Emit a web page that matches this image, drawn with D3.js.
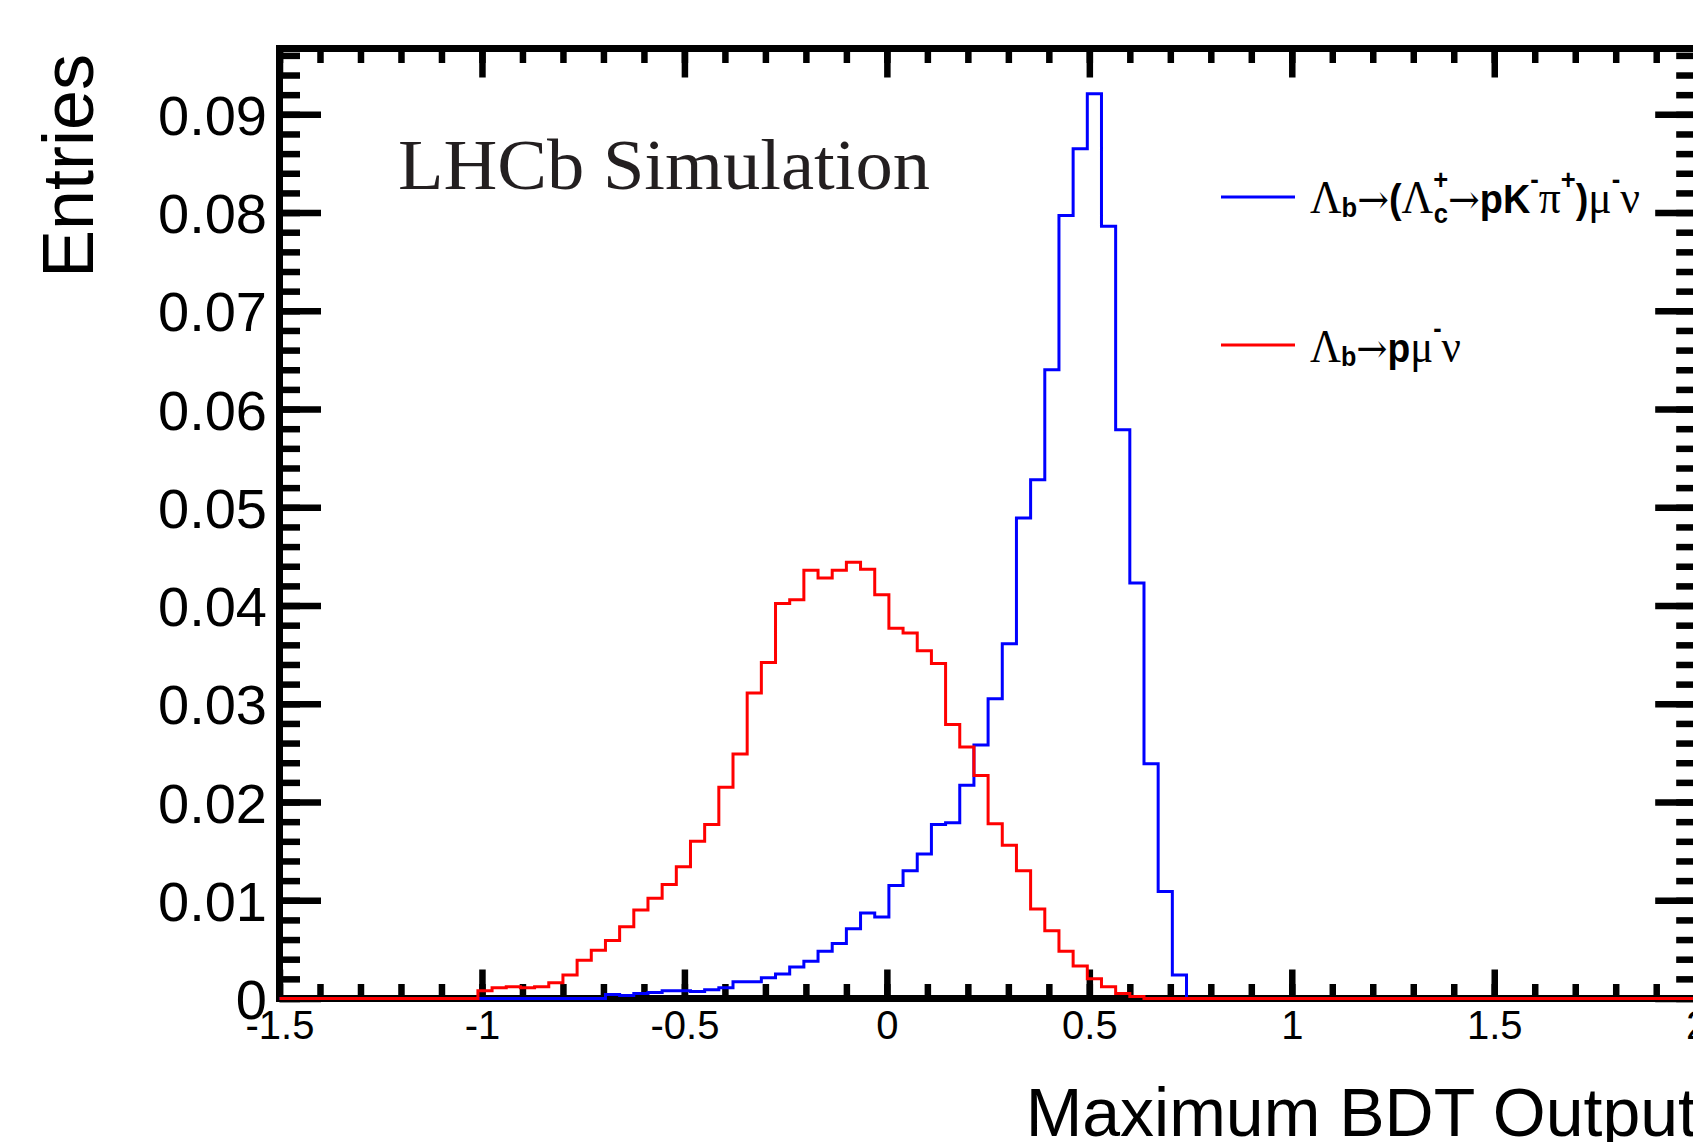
<!DOCTYPE html>
<html>
<head>
<meta charset="utf-8">
<script src="https://cdn.jsdelivr.net/npm/d3@7"></script>
<style>
  body { margin: 0; background: #fff; }
  svg { display: block; }
</style>
</head>
<body>
<svg id="chart" width="1693" height="1142"></svg>
<script>
// histogram binning: 100 bins from -1.5 to 2
const binLow = -1.5;
const binWidth = 0.035;

// Lambda_b -> (Lambda_c -> p K pi) mu nu  (blue)
const lambdaCValues = [
  0, 0, 0, 0, 0, 0, 0, 0, 0, 0,
  0, 0, 0, 0, 0, 0, 0, 0, 0, 0,
  0, 0, 0, 0.0004, 0.0003, 0.0005, 0.0006, 0.0008, 0.0008, 0.0007,
  0.0009, 0.0011, 0.0017, 0.0017, 0.0021, 0.0025, 0.0032, 0.0038, 0.0048, 0.0056,
  0.0071, 0.0087, 0.0083, 0.0115, 0.0130, 0.0147, 0.0177, 0.0179, 0.0217, 0.0258,
  0.0305, 0.0361, 0.0489, 0.0528, 0.0640, 0.0797, 0.0865, 0.0921, 0.0786, 0.0579,
  0.0423, 0.0239, 0.0109, 0.0024, 0, 0, 0, 0, 0, 0,
  0, 0, 0, 0, 0, 0, 0, 0, 0, 0,
  0, 0, 0, 0, 0, 0, 0, 0, 0, 0,
  0, 0, 0, 0, 0, 0, 0, 0, 0, 0
];

// Lambda_b -> p mu nu  (red)
const pMuNuValues = [
  0, 0, 0, 0, 0, 0, 0, 0, 0, 0,
  0, 0, 0, 0, 0.0008, 0.0011, 0.0012, 0.0011, 0.0012, 0.0016,
  0.0024, 0.0039, 0.0049, 0.0059, 0.0073, 0.0090, 0.0102, 0.0116, 0.0134, 0.0160,
  0.0177, 0.0215, 0.0249, 0.0311, 0.0342, 0.0402, 0.0406, 0.0436, 0.0428, 0.0436,
  0.0444, 0.0437, 0.0411, 0.0377, 0.0372, 0.0354, 0.0341, 0.0279, 0.0256, 0.0227,
  0.0178, 0.0156, 0.0130, 0.0091, 0.0069, 0.0048, 0.0033, 0.0020, 0.0012, 0.0005,
  0.0002, 0, 0, 0, 0, 0, 0, 0, 0, 0,
  0, 0, 0, 0, 0, 0, 0, 0, 0, 0,
  0, 0, 0, 0, 0, 0, 0, 0, 0, 0,
  0, 0, 0, 0, 0, 0, 0, 0, 0, 0
];

const xMajorTicks = [-1.5, -1, -0.5, 0, 0.5, 1, 1.5, 2];
const xTickLabels = ["-1.5", "-1", "-0.5", "0", "0.5", "1", "1.5", "2"];
const yMajorTicks = [0, 0.01, 0.02, 0.03, 0.04, 0.05, 0.06, 0.07, 0.08, 0.09];
const yTickLabels = ["0", "0.01", "0.02", "0.03", "0.04", "0.05", "0.06", "0.07", "0.08", "0.09"];

const svg = d3.select("#chart");

const x = d3.scaleLinear().domain([-1.5, 2]).range([279.5, 1696.7]);
const y = d3.scaleLinear().domain([0, 0.0967]).range([998.5, 48.5]);

const xMinor = d3.range(0, 36).map(i => Math.round((-1.5 + i * 0.1) * 10) / 10);
const yMinor = d3.range(0, 49).map(i => Math.round(i * 0.002 * 1000) / 1000);

const sansFont = "'Liberation Sans', Arial, Helvetica, sans-serif";
const serifFont = "'Liberation Serif', 'DejaVu Serif', serif";
const arrowFont = "'DejaVu Serif', 'DejaVu Sans', serif";

// frame
svg.append("rect")
    .attr("x", x(-1.5))
    .attr("y", y(0.0967))
    .attr("width", x(2) - x(-1.5))
    .attr("height", y(0) - y(0.0967))
    .attr("fill", "none")
    .attr("stroke", "#000")
    .attr("stroke-width", 7);

function styleAxis(g) {
    g.select(".domain").remove();
    g.selectAll(".tick line").attr("stroke", "#000").attr("stroke-width", 6.5);
}

// bottom axis
svg.append("g")
    .attr("transform", `translate(0,${y(0)})`)
    .call(d3.axisBottom(x).tickValues(xMinor).tickSize(-14.5).tickFormat(""))
    .call(styleAxis);
svg.append("g")
    .attr("transform", `translate(0,${y(0)})`)
    .call(d3.axisBottom(x).tickValues(xMajorTicks).tickSize(-29).tickPadding(12)
        .tickFormat((d, i) => xTickLabels[i]))
    .call(styleAxis)
    .call(g => g.selectAll("text")
        .attr("font-family", sansFont)
        .attr("font-size", 40)
        .attr("fill", "#000"));

// top axis
svg.append("g")
    .attr("transform", `translate(0,${y(0.0967)})`)
    .call(d3.axisTop(x).tickValues(xMinor).tickSize(-14.5).tickFormat(""))
    .call(styleAxis);
svg.append("g")
    .attr("transform", `translate(0,${y(0.0967)})`)
    .call(d3.axisTop(x).tickValues(xMajorTicks).tickSize(-29).tickFormat(""))
    .call(styleAxis);

// left axis
svg.append("g")
    .attr("transform", `translate(${x(-1.5)},0)`)
    .call(d3.axisLeft(y).tickValues(yMinor).tickSize(-20.5).tickFormat(""))
    .call(styleAxis);
svg.append("g")
    .attr("transform", `translate(${x(-1.5)},0)`)
    .call(d3.axisLeft(y).tickValues(yMajorTicks).tickSize(-41.5).tickPadding(12.5)
        .tickFormat((d, i) => yTickLabels[i]))
    .call(styleAxis)
    .call(g => g.selectAll("text")
        .attr("font-family", sansFont)
        .attr("font-size", 56)
        .attr("dy", "0.36em")
        .attr("fill", "#000"));

// right axis
svg.append("g")
    .attr("transform", `translate(${x(2)},0)`)
    .call(d3.axisRight(y).tickValues(yMinor).tickSize(-20.5).tickFormat(""))
    .call(styleAxis);
svg.append("g")
    .attr("transform", `translate(${x(2)},0)`)
    .call(d3.axisRight(y).tickValues(yMajorTicks).tickSize(-41.5).tickFormat(""))
    .call(styleAxis);

// histograms
function histPoints(values) {
    const pts = values.map((v, i) => [binLow + i * binWidth, v]);
    pts.push([binLow + values.length * binWidth, values[values.length - 1]]);
    return pts;
}
const histLine = d3.line()
    .x(d => x(d[0]))
    .y(d => y(d[1]))
    .curve(d3.curveStepAfter);

svg.append("path")
    .attr("d", histLine(histPoints(lambdaCValues)))
    .attr("fill", "none")
    .attr("stroke", "#0000ff")
    .attr("stroke-width", 3);

svg.append("path")
    .attr("d", histLine(histPoints(pMuNuValues)))
    .attr("fill", "none")
    .attr("stroke", "#ff0000")
    .attr("stroke-width", 3);

// axis titles
svg.append("text")
    .attr("x", 1697)
    .attr("y", 1136)
    .attr("text-anchor", "end")
    .attr("font-family", sansFont)
    .attr("font-size", 68)
    .attr("fill", "#000")
    .text("Maximum BDT Output");

svg.append("text")
    .attr("transform", "translate(93,54) rotate(-90)")
    .attr("text-anchor", "end")
    .attr("font-family", sansFont)
    .attr("font-size", 72)
    .attr("fill", "#000")
    .text("Entries");

// LHCb label
svg.append("text")
    .attr("x", 398)
    .attr("y", 188.5)
    .attr("font-family", serifFont)
    .attr("font-size", 72)
    .attr("fill", "#231f20")
    .attr("textLength", 532)
    .attr("lengthAdjust", "spacingAndGlyphs")
    .text("LHCb Simulation");

// legend
const G = { f: serifFont, s: 46 };            // greek letters
const A = { f: arrowFont, s: 40 };            // arrows
const B = { f: sansFont, s: 40, w: "bold" };  // bold latin
const S = { f: sansFont, s: 27, w: "bold" };  // sub/superscripts

const blueLabel = [
    { ...G, t: "\u039B" }, { ...S, t: "b", o: 4 }, { ...A, t: "\u2192" },
    { ...B, t: "(" }, { ...G, t: "\u039B" }, { ...S, t: "+", o: -24 }, { ...S, t: "c", o: 10, dx: -15 },
    { ...A, t: "\u2192" }, { ...B, t: "pK" }, { ...S, t: "-", o: -24 }, { ...G, t: "\u03C0" },
    { ...S, t: "+", o: -24 }, { ...B, t: ")" }, { ...G, t: "\u03BC" }, { ...S, t: "-", o: -24 },
    { ...G, t: "\u03BD" }
];
const redLabel = [
    { ...G, t: "\u039B" }, { ...S, t: "b", o: 4 }, { ...A, t: "\u2192" },
    { ...B, t: "p" }, { ...G, t: "\u03BC" }, { ...S, t: "-", o: -24 }, { ...G, t: "\u03BD" }
];

function legendLabel(parts, x0, yBase, targetWidth) {
    const t = svg.append("text").attr("x", 0).attr("y", 0).attr("fill", "#000");
    let prev = 0;
    parts.forEach(p => {
        const o = p.o || 0;
        const ts = t.append("tspan")
            .attr("font-family", p.f)
            .attr("font-size", p.s)
            .attr("font-weight", p.w || "normal")
            .attr("dy", o - prev)
            .text(p.t);
        if (p.dx) ts.attr("dx", p.dx);
        prev = o;
    });
    const bb = t.node().getBBox();
    const k = targetWidth / bb.width;
    t.attr("transform", `translate(${x0 - bb.x * k},${yBase}) scale(${k},1)`);
}

function legendLine(color, yl) {
    svg.append("line")
        .attr("x1", 1221).attr("x2", 1295)
        .attr("y1", yl).attr("y2", yl)
        .attr("stroke", color)
        .attr("stroke-width", 3);
}

legendLine("#0000ff", 197);
legendLabel(blueLabel, 1310, 213, 330);
legendLine("#ff0000", 345);
legendLabel(redLabel, 1310, 361.5, 151);
</script>
</body>
</html>
